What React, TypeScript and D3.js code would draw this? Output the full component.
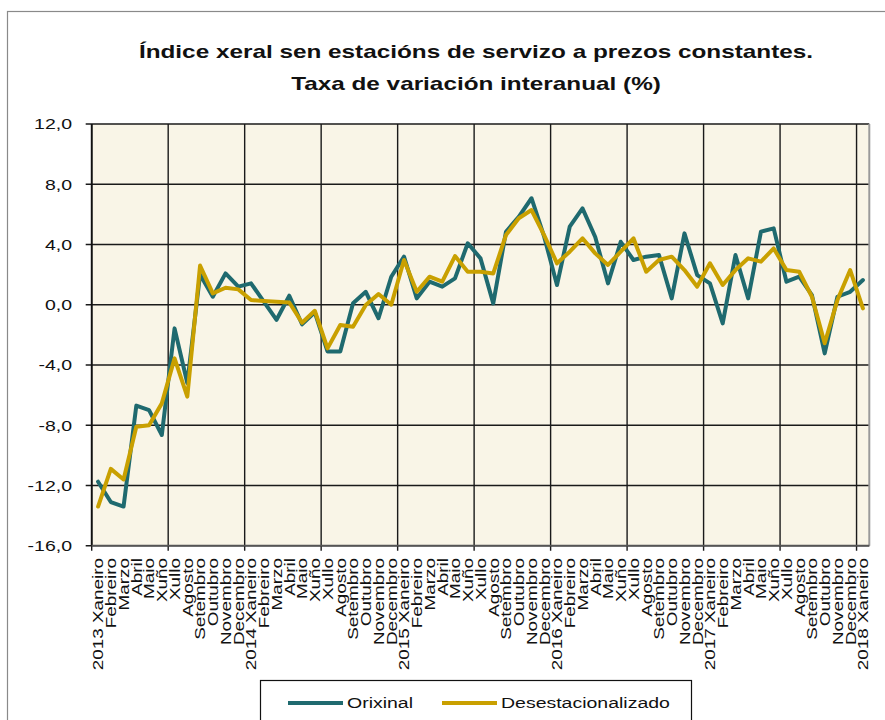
import React from "react";
import * as d3 from "d3";

const months = ["Xaneiro","Febreiro","Marzo","Abril","Maio","Xuño","Xullo","Agosto","Setembro","Outubro","Novembro","Decembro"];
const startYear = 2013;
const nPoints = 61;

const orixinal = [
  -11.75, -13.1, -13.4, -6.7, -7.0, -8.65, -1.57, -5.2, 2.0, 0.53, 2.08, 1.2,
  1.42, 0.2, -1.0, 0.6, -1.3, -0.5, -3.1, -3.1, 0.1, 0.86, -0.9, 1.86,
  3.19, 0.42, 1.53, 1.2, 1.75, 4.08, 3.08, 0.09, 4.85, 5.84, 7.07, 4.5,
  1.31, 5.18, 6.4, 4.5, 1.42, 4.18, 2.97, 3.19, 3.3, 0.42, 4.74, 1.97,
  1.42, -1.24, 3.3, 0.42, 4.85, 5.07, 1.53, 1.86, 0.64, -3.23, 0.53, 0.86, 1.64,
];

const desestacionalizado = [
  -13.4, -10.9, -11.6, -8.1, -8.0, -6.55, -3.56, -6.1, 2.6, 0.75, 1.13, 1.02,
  0.31, 0.25, 0.2, 0.15, -1.2, -0.4, -2.9, -1.35, -1.46, -0.02, 0.71, 0.0,
  2.97, 0.86, 1.86, 1.53, 3.23, 2.19, 2.19, 2.08, 4.63, 5.74, 6.29, 4.6,
  2.75, 3.52, 4.41, 3.41, 2.64, 3.52, 4.41, 2.19, 2.97, 3.19, 2.3, 1.2,
  2.75, 1.31, 2.3, 3.08, 2.86, 3.74, 2.3, 2.19, 0.53, -2.56, 0.31, 2.3, -0.24,
];

const yTicks = [-16, -12, -8, -4, 0, 4, 8, 12];
const titleLines = [
  "Índice xeral sen estacións de servizo a prezos constantes.",
  "Taxa de variación interanual (%)",
];
const seriesNames = ["Orixinal", "Desestacionalizado"];
const seriesColors = ["#1F6A6F", "#C9A000"];

const categories = d3.range(nPoints).map((i) => {
  const m = i % 12;
  const y = startYear + Math.floor(i / 12);
  return m === 0 ? `${y} ${months[m]}` : months[m];
});

const locale = d3.formatLocale({ decimal: ",", thousands: ".", grouping: [3], currency: ["", "€"], minus: "-" });
const fmt = locale.format(".1f");

export default function App() {
  const W = 885, H = 720;
  const left = 91.7, right = 869.3, top = 124, bottom = 545.7;
  const font = "'Liberation Sans', Arial, sans-serif";

  const x = d3.scaleBand<number>().domain(d3.range(nPoints)).range([left, right]).padding(0);
  const y = d3.scaleLinear().domain([-16, 12]).range([bottom, top]);
  const cx = (i: number) => (x(i) as number) + x.bandwidth() / 2;

  const line = d3.line<number>().x((_, i) => cx(i)).y((d) => y(d));

  const vGrid = d3.range(0, nPoints, 6).map((i) => x(i) as number);

  return (
    <svg width={W} height={H} style={{ position: "absolute", left: 0, top: 0, display: "block", background: "#fff" }}>
      <rect x={7.5} y={11.5} width={W + 10} height={H + 10} fill="#fff" stroke="#8a8a8a" strokeWidth={1.2} />
      {titleLines.map((t, k) => (
        <text key={k} transform={`translate(476, ${k === 0 ? 58 : 90}) scale(1.28,1)`} textAnchor="middle"
          fontFamily={font} fontWeight="bold" fontSize={19} fill="#111">{t}</text>
      ))}
      <rect x={left} y={top} width={right - left} height={bottom - top} fill="#F9F5E7" />
      {yTicks.map((t) => (
        <line key={"h" + t} x1={left - 6} x2={right} y1={y(t)} y2={y(t)} stroke="#1a1a1a" strokeWidth={1.4} />
      ))}
      {vGrid.map((gx, k) => (
        <line key={"v" + k} x1={gx} x2={gx} y1={top} y2={bottom + 5} stroke="#1a1a1a" strokeWidth={1.4} />
      ))}
      <line x1={right} x2={right} y1={top} y2={bottom} stroke="#9a9a9a" strokeWidth={2} />
      <line x1={left} x2={left} y1={top} y2={bottom} stroke="#111" strokeWidth={1.8} />
      <line x1={left} x2={right} y1={bottom} y2={bottom} stroke="#555" strokeWidth={1.8} />
      {yTicks.map((t) => (
        <text key={"yl" + t} transform={`translate(72, ${y(t)}) scale(1.3,1)`} textAnchor="end" dy="0.36em"
          fontFamily={font} fontSize={15} fill="#111">{fmt(t)}</text>
      ))}
      {[orixinal, desestacionalizado].map((s, k) => (
        <path key={"s" + k} d={line(s) as string} fill="none" stroke={seriesColors[k]} strokeWidth={4}
          strokeLinejoin="round" strokeLinecap="round" />
      ))}
      {categories.map((c, i) => (
        <text key={"xl" + i} transform={`translate(${cx(i)}, 558) rotate(-90) scale(1.26,1)`} textAnchor="end"
          dy="0.36em" fontFamily={font} fontSize={15} fill="#111">{c}</text>
      ))}
      <rect x={260.5} y={680.5} width={431} height={60} fill="#fff" stroke="#111" strokeWidth={1.2} />
      {seriesNames.map((n, k) => {
        const lx = k === 0 ? 288 : 442;
        return (
          <g key={"lg" + k}>
            <line x1={lx} x2={lx + 55} y1={703} y2={703} stroke={seriesColors[k]} strokeWidth={4} />
            <text transform={`translate(${lx + 59}, 703) scale(1.3,1)`} dy="0.36em" fontFamily={font} fontSize={15} fill="#111">{n}</text>
          </g>
        );
      })}
    </svg>
  );
}
